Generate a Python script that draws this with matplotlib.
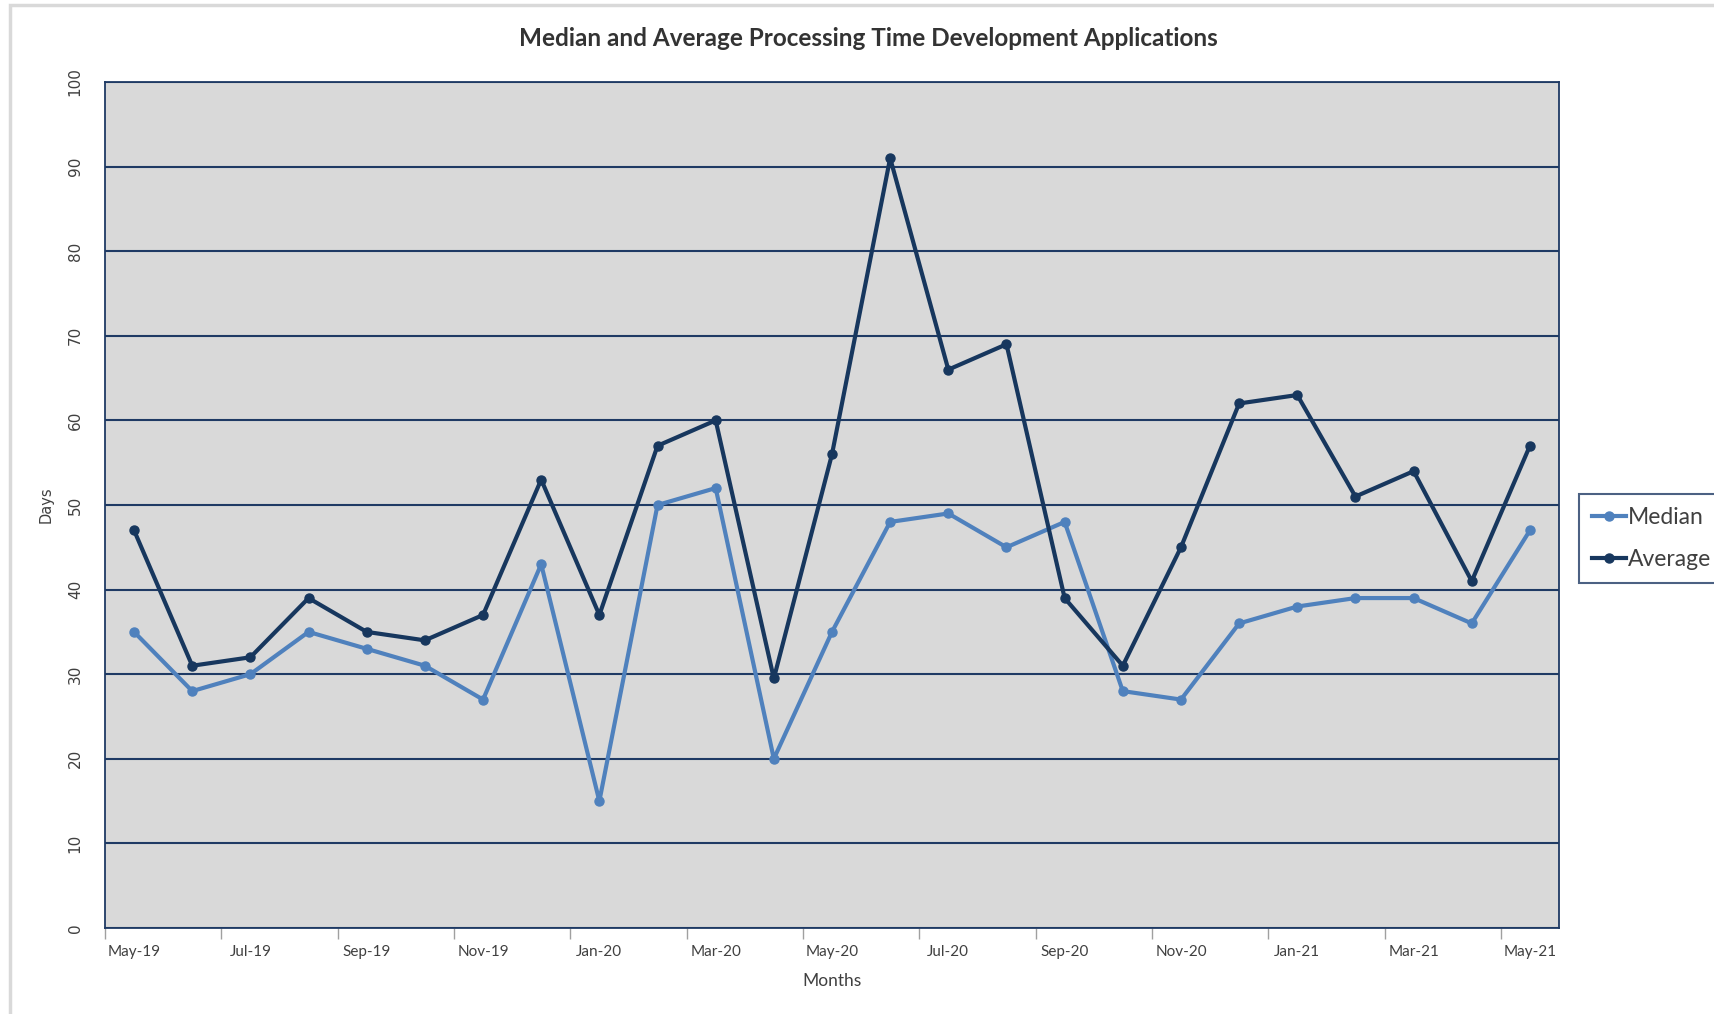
import matplotlib
matplotlib.use("Agg")
import matplotlib.pyplot as plt
from matplotlib.patches import Rectangle

months = ["May-19", "Jun-19", "Jul-19", "Aug-19", "Sep-19", "Oct-19", "Nov-19", "Dec-19",
          "Jan-20", "Feb-20", "Mar-20", "Apr-20", "May-20", "Jun-20", "Jul-20", "Aug-20",
          "Sep-20", "Oct-20", "Nov-20", "Dec-20", "Jan-21", "Feb-21", "Mar-21", "Apr-21", "May-21"]
median = [35, 28, 30, 35, 33, 31, 27, 43, 15, 50, 52, 20, 35, 48, 49, 45, 48, 28, 27, 36, 38, 39, 39, 36, 47]
average = [47, 31, 32, 39, 35, 34, 37, 53, 37, 57, 60, 29.5, 56, 91, 66, 69, 39, 31, 45, 62, 63, 51, 54, 41, 57]
yticks = [0, 10, 20, 30, 40, 50, 60, 70, 80, 90, 100]

W, H = 1715, 1014
fig = plt.figure(figsize=(W / 100, H / 100), dpi=100)
fig.patch.set_facecolor("white")

# chart-area frame
fig.add_artist(Rectangle((10 / W, -0.05), 1.2, 1 - 5 / H + 0.05, transform=fig.transFigure,
                         fill=False, edgecolor="#D9D9D9", lw=2.5))

left, right, top, bottom = 105, 1559, 82, 928
ax = fig.add_axes([left / W, 1 - bottom / H, (right - left) / W, (bottom - top) / H])
ax.set_facecolor("#D9D9D9")

navy = "#17375E"
blue = "#4F81BD"
x = list(range(len(months)))

ax.set_ylim(0, 100)
ax.set_xlim(-0.5, len(months) - 0.5)
ax.set_yticks(yticks)
ax.yaxis.grid(True, color="#1F3A64", lw=1.5)
ax.set_axisbelow(True)

ax.plot(x, median, color=blue, lw=3.0, marker="o", ms=6.5, label="Median", zorder=3)
ax.plot(x, average, color=navy, lw=3.0, marker="o", ms=6.5, label="Average", zorder=4)

for s in ["top", "right", "left", "bottom"]:
    ax.spines[s].set_color("#1F3A64")
    ax.spines[s].set_linewidth(1.3)

# y tick labels rotated
ax.tick_params(axis="y", length=0, pad=16)
for lab in ax.get_yticklabels():
    lab.set_rotation(90)
    lab.set_va("center")
    lab.set_fontsize(11)
    lab.set_color("#404040")
    lab.set_family("DejaVu Sans")

# x ticks: labels at every other category center, tick marks at category boundaries
ax.set_xticks(x[::2])
ax.set_xticklabels(months[::2], fontsize=11, color="#404040", family="Lato")
ax.tick_params(axis="x", which="major", length=0, pad=12)
ax.set_xticks([i - 0.5 for i in range(0, len(months), 2)], minor=True)
ax.tick_params(axis="x", which="minor", length=8, width=1, color="#A0A0A0", direction="out")

ax.set_xlabel("Months", fontsize=12.5, color="#404040", family="Lato", labelpad=10)
fig.text(46 / W, 1 - 505 / H, "Days", rotation=90, ha="center", va="center",
         fontsize=10.5, color="#404040", family="DejaVu Sans")

fig.text(868 / W, 1 - 39 / H, "Median and Average Processing Time Development Applications",
         ha="center", va="center", fontsize=17.5, fontweight="bold", color="#333333", family="Lato")

leg = fig.legend(loc="upper left", bbox_to_anchor=(1579 / W, 1 - 494 / H),
                 bbox_transform=fig.transFigure, frameon=True, fancybox=False,
                 handlelength=1.5, handletextpad=0.1, labelspacing=0.95,
                 borderpad=0.55, borderaxespad=0, prop={"family": "Lato", "size": 16.5})
leg.get_frame().set_edgecolor("#1F3A64")
leg.get_frame().set_linewidth(1.5)
for t in leg.get_texts():
    t.set_color("#404040")

fig.savefig("out.png", dpi=100)
